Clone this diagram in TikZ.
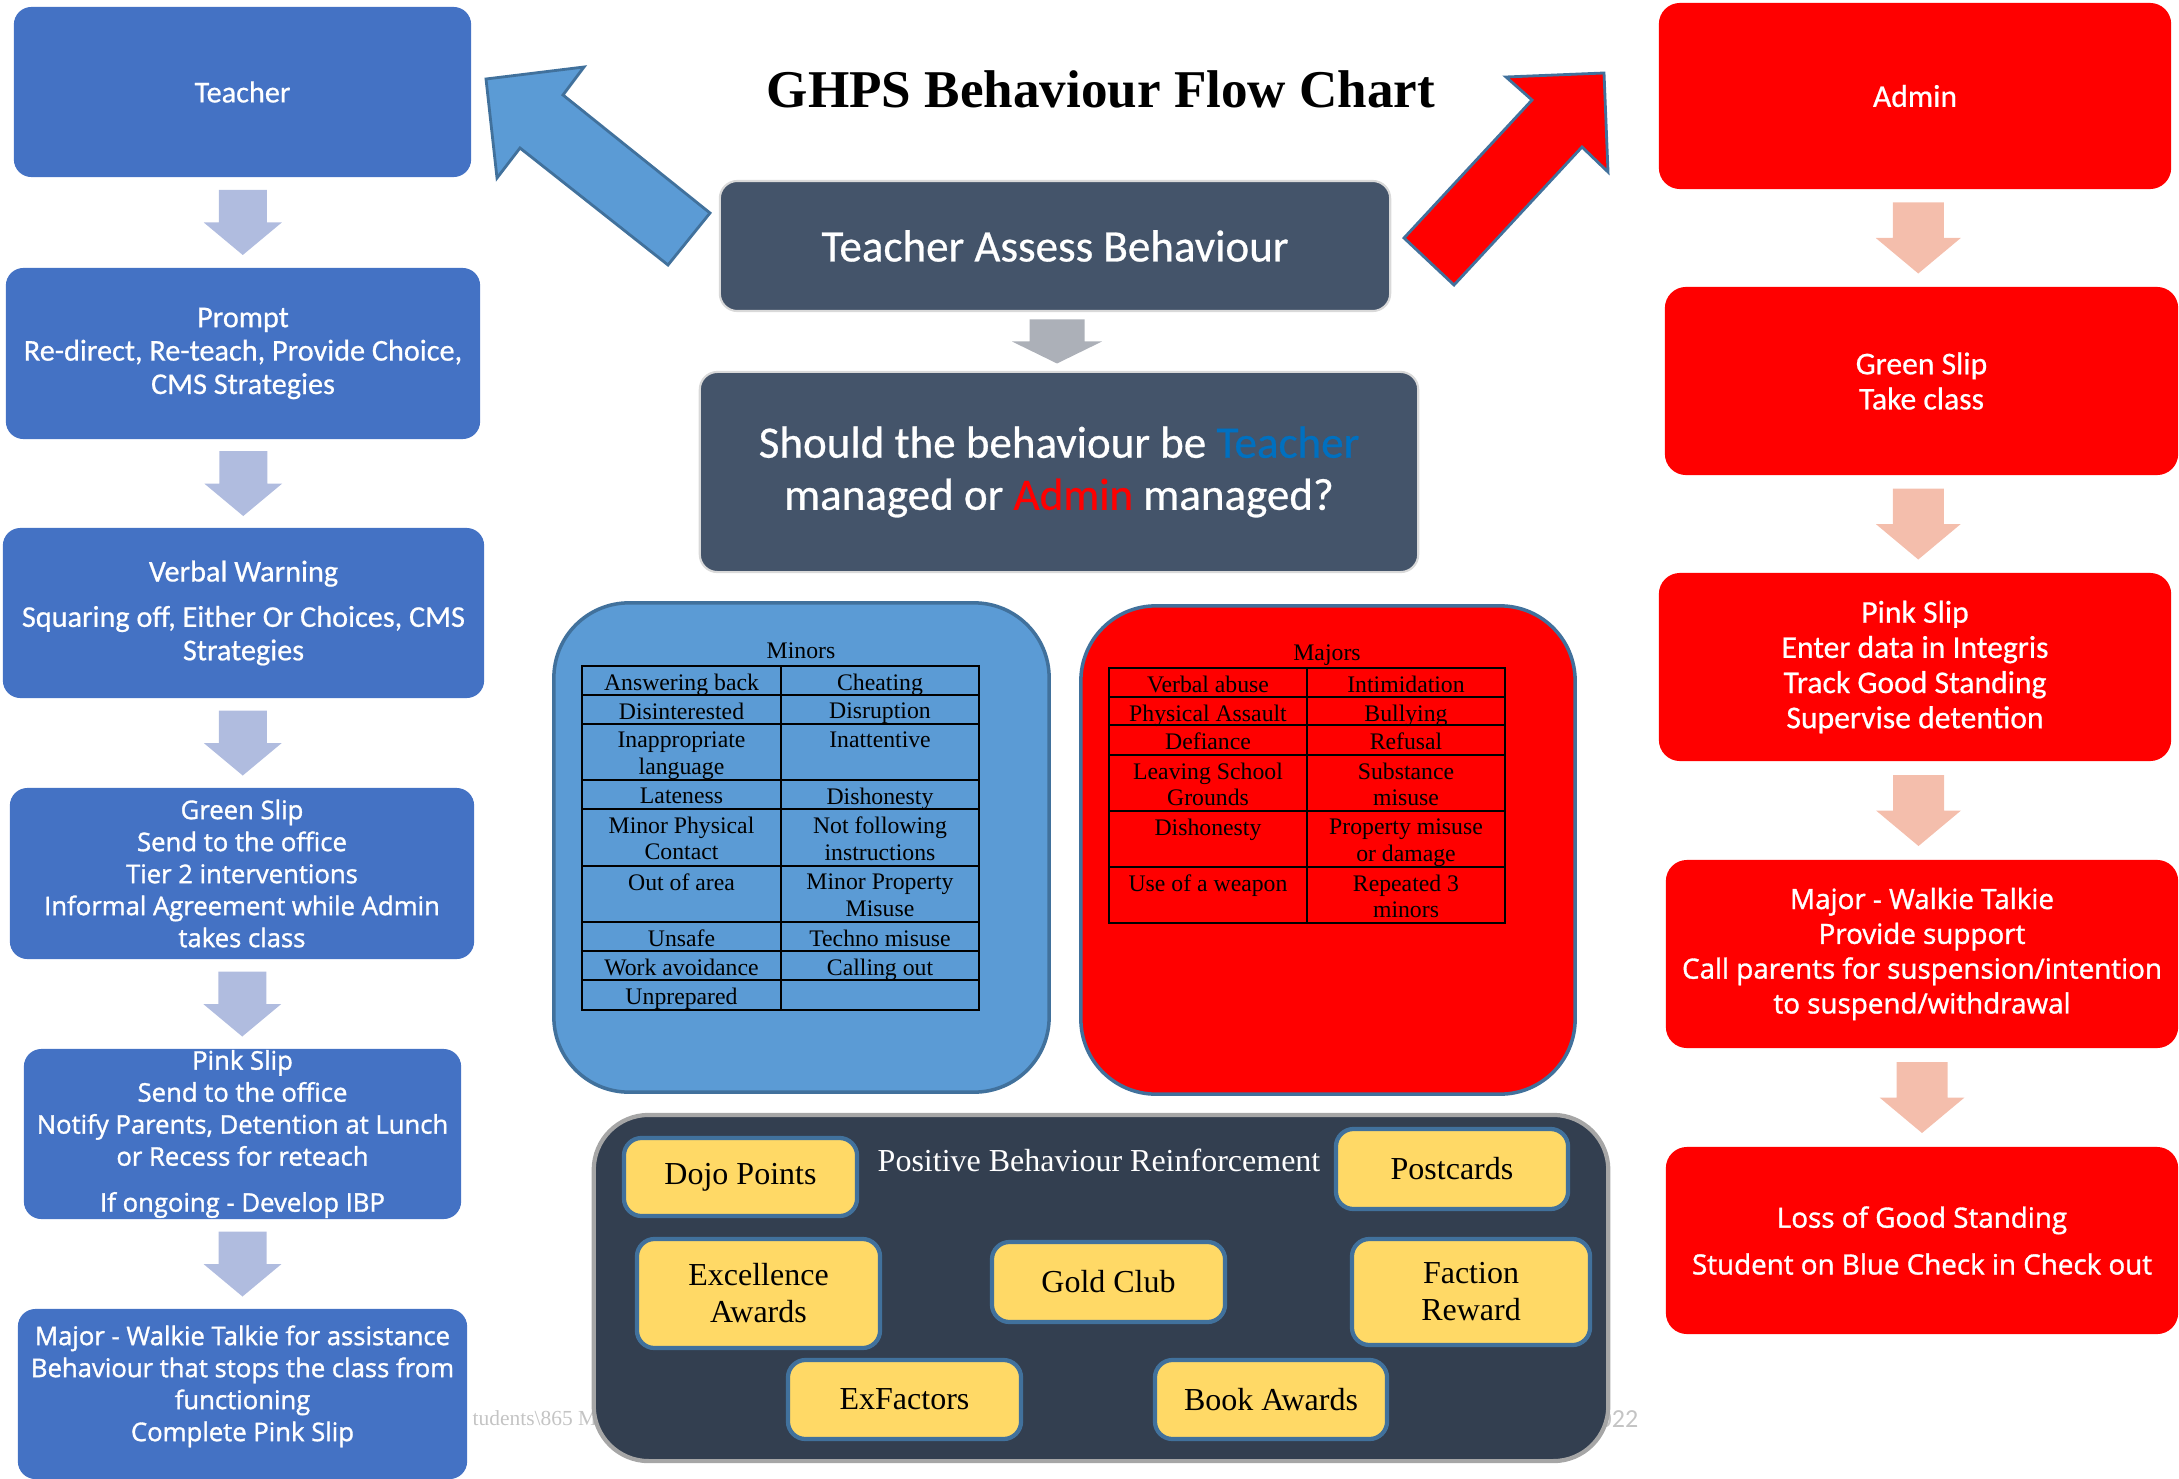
\documentclass[tikz,border=0pt]{standalone}
\usepackage{fontspec}
\setmainfont{Liberation Serif}
\newfontfamily\calib[FakeBold=0.6]{Carlito}
\newfontfamily\calibplain{Carlito}
\newfontfamily\osans[FakeBold=1.3]{Open Sans}
\usetikzlibrary{calc}

\definecolor{teachblue}{HTML}{4472C4}
\definecolor{teacharrow}{HTML}{B0BCDF}
\definecolor{adminarrow}{HTML}{F4BEAC}
\definecolor{slate}{HTML}{44546A}
\definecolor{slatearrow}{HTML}{ACB0B8}
\definecolor{qblue}{HTML}{0070C0}
\definecolor{minorfill}{HTML}{5B9BD5}
\definecolor{edgeblue}{HTML}{41719C}
\definecolor{posfill}{HTML}{333F50}
\definecolor{yellowfill}{HTML}{FFD966}
\definecolor{footgrey}{HTML}{C4C4C4}

% block arrow between two boxes: from, to, colour, shaft half width, head half width, half length
\newcommand{\flowarrow}[6]{%
  \path (#1.south) -- (#2.north) coordinate[midway] (fa);
  \fill[#3] ($(fa)+(-#4,-#6)$) -- ($(fa)+(#4,-#6)$) -- ($(fa)+(#4,0)$) -- ($(fa)+(#5,0)$)
    -- ($(fa)+(0,#6)$) -- ($(fa)+(-#5,0)$) -- ($(fa)+(-#4,0)$) -- cycle;}

\begin{document}
\begin{tikzpicture}[x=0.01cm,y=-0.01cm,
  lbox/.style={fill=teachblue,text=white,rounded corners=5pt,align=center,inner sep=0pt},
  rbox/.style={fill=red,text=white,rounded corners=6pt,align=center,inner sep=0pt},
  calL/.style={font=\calib\fontsize{8.6}{9.5}\selectfont},
  calR/.style={font=\calib\fontsize{9}{10}\selectfont},
  osL/.style={font=\osans\fontsize{7.3}{9.1}\selectfont},
  osR/.style={font=\osans\fontsize{7.9}{9.9}\selectfont},
  dbox/.style={fill=slate,draw=black!15,line width=0.6pt,text=white,rounded corners=5pt,align=center,inner sep=0pt},
  bigbox/.style={draw=edgeblue,line width=1pt,rounded corners=0.75cm,inner sep=0pt},
  ybox/.style={fill=yellowfill,draw=edgeblue,line width=1.2pt,rounded corners=5pt,align=center,inner sep=0pt,font=\fontsize{9.1}{10.5}\selectfont},
  cell/.style={anchor=north,inner sep=0pt,align=center,font=\fontsize{6.75}{7.6}\selectfont},
  grid/.style={line width=0.7pt}]
\useasboundingbox (0,0) rectangle (2179,1479);

% text lying behind the boxes
\node[anchor=base west,inner sep=0pt,text=footgrey,font=\fontsize{6.1}{7}\selectfont] (footl) at (472,1425) {tudents\textbackslash865 M};
\node[anchor=base west,inner sep=0pt,text=footgrey,font=\calibplain\fontsize{7.4}{8}\selectfont] (footr) at (1598,1427) {022};

\node[anchor=base,font=\bfseries\fontsize{15.1}{18}\selectfont] (title) at (1101,108) {GHPS Behaviour Flow Chart};

% teacher column
\node[lbox,calL,minimum width=4.57cm,minimum height=1.70cm] (teacher) at (242.5,92) {Teacher};
\node[lbox,calL,minimum width=4.74cm,minimum height=1.71cm] (prompt) at (243,353.5) {Prompt\\Re-direct, Re-teach, Provide Choice,\\CMS Strategies};
\node[lbox,calL,minimum width=4.81cm,minimum height=1.70cm] (verbal) at (243.5,613) {Verbal Warning\\[3.4pt]Squaring off, Either Or Choices, CMS\\Strategies};
\node[lbox,osL,minimum width=4.64cm,minimum height=1.71cm] (lgreen) at (242,873.5) {Green Slip\\Send to the office\\Tier 2 interventions\\Informal Agreement while Admin\\takes class};
\node[lbox,osL,minimum width=4.37cm,minimum height=1.70cm] (lpink) at (242.5,1134) {Pink Slip\\Send to the office\\Notify Parents, Detention at Lunch\\or Recess for reteach\\[4pt]If ongoing - Develop IBP};
\node[lbox,osL,minimum width=4.49cm,minimum height=1.70cm] (lmajor) at (242.5,1394) {Major - Walkie Talkie for assistance\\Behaviour that stops the class from\\functioning\\Complete Pink Slip\\[-3pt]\mbox{}};

\flowarrow{teacher}{prompt}{teacharrow}{24}{39}{32.5}
\flowarrow{prompt}{verbal}{teacharrow}{24}{39}{32.5}
\flowarrow{verbal}{lgreen}{teacharrow}{24}{39}{32.5}
\flowarrow{lgreen}{lpink}{teacharrow}{24}{39}{32.5}
\flowarrow{lpink}{lmajor}{teacharrow}{24}{39}{32.5}

% admin column
\node[rbox,calR,minimum width=5.12cm,minimum height=1.86cm] (admin) at (1915,96) {Admin};
\node[rbox,calR,minimum width=5.13cm,minimum height=1.88cm] (rgreen) at (1921.5,381) {Green Slip\\Take class};
\node[rbox,calR,minimum width=5.12cm,minimum height=1.88cm] (rpink) at (1915,667) {Pink Slip\\Enter data in Integris\\Track Good Standing\\Supervise detention};
\node[rbox,osR,minimum width=5.12cm,minimum height=1.88cm] (rmajor) at (1922,954) {Major - Walkie Talkie\\Provide support\\Call parents for suspension/intention\\to suspend/withdrawal};
\node[rbox,osR,minimum width=5.12cm,minimum height=1.87cm] (rloss) at (1922,1240.5) {Loss of Good Standing\\[3.4pt]Student on Blue Check in Check out};

\flowarrow{admin}{rgreen}{adminarrow}{25.5}{42.5}{35.5}
\flowarrow{rgreen}{rpink}{adminarrow}{25.5}{42.5}{35.5}
\flowarrow{rpink}{rmajor}{adminarrow}{25.5}{42.5}{35.5}
\flowarrow{rmajor}{rloss}{adminarrow}{25.5}{42.5}{35.5}

% centre
\node[dbox,minimum width=6.70cm,minimum height=1.30cm,font=\calib\fontsize{12.8}{14.8}\selectfont] (assess) at (1055,246) {Teacher Assess Behaviour};
\node[dbox,minimum width=7.18cm,minimum height=2.00cm,font=\calib\fontsize{12.8}{14.8}\selectfont] (question) at (1059,472) {Should the behaviour be \textcolor{qblue}{Teacher}\\managed or \textcolor{red}{Admin} managed?};
\flowarrow{assess}{question}{slatearrow}{27.5}{45}{22}

\draw[edgeblue,fill=minorfill,line width=0.8pt] (486,79) -- (584,67) -- (563,95) -- (710,213) -- (668,265) -- (520,148) -- (497,178) -- cycle;
\draw[edgeblue,fill=red,line width=0.8pt] (1604,73) -- (1608,172) -- (1582,147) -- (1454,285) -- (1404,238) -- (1532,100) -- (1506,77) -- cycle;

% minors
\node[bigbox,fill=minorfill,minimum width=4.95cm,minimum height=4.89cm] (minors) at (801.5,847.5) {};
\node[cell,anchor=base] (minlab) at (801,658) {Minors};
\draw[grid] (582,666) rectangle (979,1010);
\draw[grid] (781,666) -- (781,1010);
\foreach \yy in {695,724,780,809,866,922,951,980} \draw[grid] (582,\yy) -- (979,\yy);
\foreach \yy/\lt/\rt [count=\i] in {666/Answering back/Cheating, 695/Disinterested/Disruption,
  724/{Inappropriate\\language}/Inattentive, 780/Lateness/Dishonesty,
  809/{Minor Physical\\Contact}/{Not following\\instructions}, 866/Out of area/{Minor Property\\Misuse},
  922/Unsafe/Techno misuse, 951/Work avoidance/Calling out, 980/Unprepared/{}}{
  \node[cell] (minA\i) at (681.5,\yy+7) {\lt};
  \node[cell] (minB\i) at (880,\yy+7) {\rt};
}

% majors
\node[bigbox,fill=red,minimum width=4.94cm,minimum height=4.88cm] (majors) at (1328,850) {};
\node[cell,anchor=base] (majlab) at (1327,660) {Majors};
\draw[grid] (1109,668) rectangle (1505,923);
\draw[grid] (1307,668) -- (1307,923);
\foreach \yy in {697,725,755,811,867} \draw[grid] (1109,\yy) -- (1505,\yy);
\foreach \yy/\lt/\rt [count=\i] in {668/Verbal abuse/Intimidation, 697/Physical Assault/Bullying,
  725/Defiance/Refusal, 755/{Leaving School\\Grounds}/{Substance\\misuse},
  811/Dishonesty/{Property misuse\\or damage}, 867/Use of a weapon/{Repeated 3\\minors}}{
  \node[cell] (majA\i) at (1208,\yy+7) {\lt};
  \node[cell] (majB\i) at (1406,\yy+7) {\rt};
}

% positive behaviour
\node[fill=posfill,draw=black!35,line width=1.2pt,rounded corners=0.55cm,minimum width=10.14cm,minimum height=3.46cm,inner sep=0pt] (positive) at (1101,1288) {};
\node[anchor=base,text=white,font=\fontsize{9.1}{10.5}\selectfont] (poslab) at (1099,1171) {Positive Behaviour Reinforcement};
\node[ybox,minimum width=2.33cm,minimum height=0.78cm] (dojo) at (740.5,1177) {Dojo Points};
\node[ybox,minimum width=2.32cm,minimum height=0.80cm] (postcards) at (1452,1169) {Postcards};
\node[ybox,minimum width=2.43cm,minimum height=1.09cm] (excellence) at (758.5,1293.5) {Excellence\\Awards};
\node[ybox,minimum width=2.33cm,minimum height=0.80cm] (goldclub) at (1108.5,1282) {Gold Club};
\node[ybox,minimum width=2.38cm,minimum height=1.06cm] (faction) at (1471,1292) {Faction\\Reward};
\node[ybox,minimum width=2.33cm,minimum height=0.79cm] (exfactors) at (904.5,1399.5) {ExFactors};
\node[ybox,minimum width=2.32cm,minimum height=0.79cm] (bookawards) at (1271,1399.5) {Book Awards};
\end{tikzpicture}
\end{document}
